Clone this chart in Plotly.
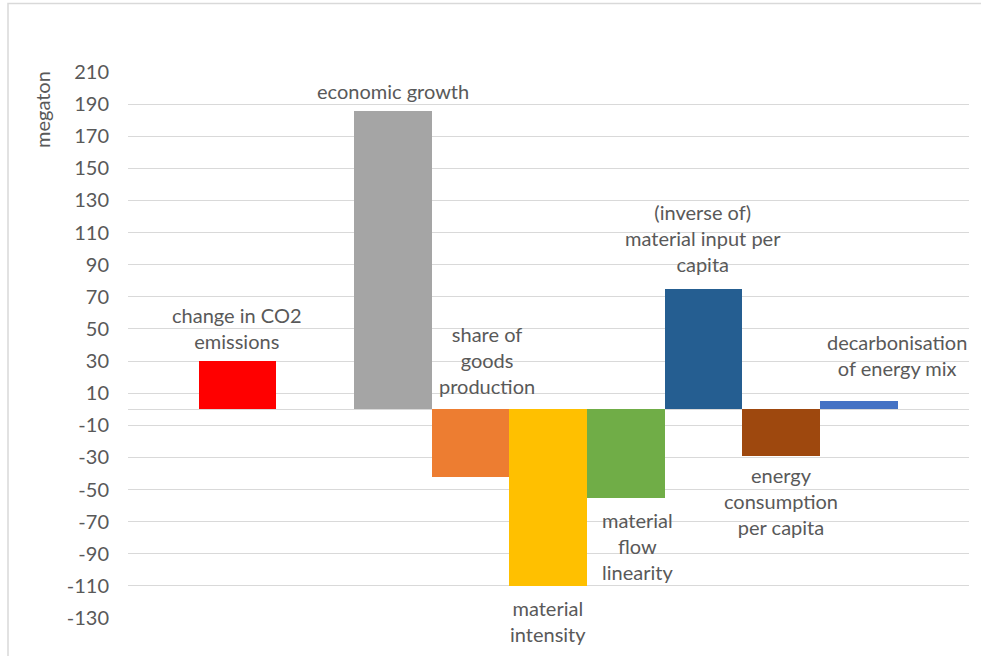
import plotly.graph_objects as go

# ---- data ----
categories = [
    "change in CO2 emissions",
    "economic growth",
    "share of goods production",
    "material intensity",
    "material flow linearity",
    "(inverse of) material input per capita",
    "energy consumption per capita",
    "decarbonisation of energy mix",
]
values = [30, 186, -42, -110, -55, 75, -29, 5]
label_texts = [
    "change in CO2<br>emissions",
    "economic growth",
    "share of<br>goods<br>production",
    "material<br>intensity",
    "material<br>flow<br>linearity",
    "(inverse of)<br>material input per<br>capita",
    "energy<br>consumption<br>per capita",
    "decarbonisation<br>of energy mix",
]
colors = ["#FF0000", "#A5A5A5", "#ED7D31", "#FFC000", "#70AD47",
          "#255E91", "#9E480E", "#4472C4"]
tick_vals = list(range(-130, 211, 20))
tick_text = [str(v) for v in tick_vals]  # plain hyphen minus, as in the original

# category slots on the axis (blank spacer slots as in the original layout)
slot_order = ["_s0", categories[0], "_s2"] + categories[1:] + ["_s10"]

# label placement: which end of the bar the label sits at, and pixel nudges
label_side = ["top", "top", "zero", "bottom", "bottom", "top", "bottom", "top"]
label_dx = [0, 0, 17, 0, 12, 0, 0, 38]
label_gap = [6, 6, 9, 8, 8, 11, 5, 19]

FONT = "Lato"
TXT = "#595959"
GRID = "#D9D9D9"

fig = go.Figure()
fig.add_trace(go.Bar(
    x=categories, y=values,
    marker=dict(color=colors, line=dict(width=0)),
    hoverinfo="x+y", showlegend=False,
))

annotations = []
for cat, v, t, side, dx, gap in zip(categories, values, label_texts,
                                    label_side, label_dx, label_gap):
    if side == "top":
        y, ya, ys = v, "bottom", gap
    elif side == "zero":
        y, ya, ys = 0, "bottom", gap
    else:
        y, ya, ys = v, "top", -gap
    annotations.append(dict(
        x=cat, y=y, xref="x", yref="y", text=t, showarrow=False,
        yanchor=ya, xanchor="center", xshift=dx, yshift=ys,
        font=dict(family=FONT, size=20, color=TXT), align="center",
    ))

annotations.append(dict(
    text="megaton", xref="paper", yref="paper",
    x=(42 - 128) / 841, y=(618 - 110) / 546, showarrow=False,
    textangle=-90, xanchor="center", yanchor="middle",
    font=dict(family=FONT, size=20, color=TXT),
))

fig.update_layout(
    width=981, height=656,
    margin=dict(l=128, r=12, t=72, b=38),
    paper_bgcolor="white", plot_bgcolor="white",
    bargap=0,
    annotations=annotations,
    shapes=[dict(type="rect", xref="paper", yref="paper",
                 x0=(8 - 128) / 841, x1=(990 - 128) / 841,
                 y0=(618 - 670) / 546, y1=(618 - 3.5) / 546,
                 line=dict(color=GRID, width=1.5), layer="below")],
    xaxis=dict(type="category", categoryorder="array",
               categoryarray=slot_order, range=[-0.41, 10.42],
               showticklabels=False, showgrid=False, zeroline=False,
               showline=False, ticks=""),
    yaxis=dict(range=[-130, 210], tickvals=tick_vals, ticktext=tick_text,
               showgrid=True, gridcolor=GRID, gridwidth=1,
               zeroline=True, zerolinecolor=GRID, zerolinewidth=1,
               showline=False, ticks="", ticklabelstandoff=18,
               tickfont=dict(family=FONT, size=20, color=TXT)),
    font=dict(family=FONT, color=TXT),
)

fig.write_html("out.html")
